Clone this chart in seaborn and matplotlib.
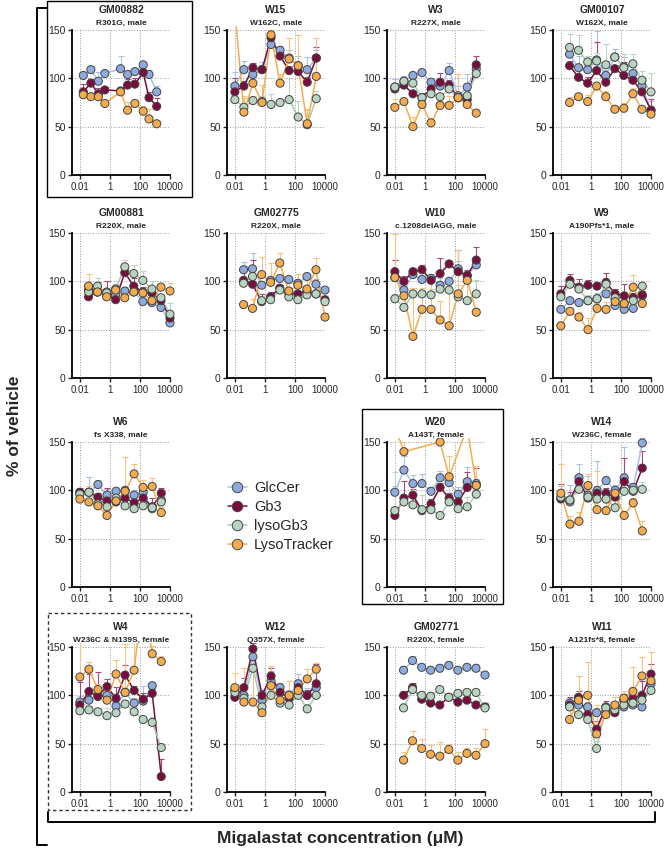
import numpy as np
import pandas as pd
import matplotlib
matplotlib.use("Agg")
import matplotlib.pyplot as plt
import seaborn as sns
from matplotlib.lines import Line2D
from matplotlib.patches import Rectangle
from matplotlib.ticker import FixedLocator, FixedFormatter, NullFormatter, LogLocator
from matplotlib.transforms import Bbox, TransformedBbox

nan = np.nan

PANELS = ["GM00882", "W15", "W3", "GM00107", "GM00881", "GM02775", "W10", "W9",
          "W6", "W20", "W14", "W4", "W12", "GM02771", "W11"]
SUBTITLES = ["R301G, male", "W162C, male", "R227X, male", "W162X, male",
             "R220X, male", "R220X, male", "c.1208delAGG, male", "A190Pfs*1, male",
             "fs X338, male", "A143T, female", "W236C, female", "W236C & N139S, female",
             "Q357X, female", "R220X, female", "A121fs*8, female"]

# concentration series (uM)
CONC_A = [0.01, 0.04, 0.16, 0.64, 2.56, 10.24, 41, 164, 655, 2621]
CONC_B = [0.038, 0.15, 0.61, 2.4, 9.8, 39, 156, 625, 2500, 10000]
CONC_C = [0.017, 0.054, 0.17, 0.46, 5.1, 15, 46, 165, 400, 1300]
PANEL_CONC = ["C", "A", "A", "B", "B", "B", "A", "A", "A", "A", "A", "A", "A", "B", "B"]

SERIES = ["GlcCer", "Gb3", "lysoGb3", "LysoTracker"]

GLCCER = [
    [103, 109, 97, 105, 110, 104, 107, 114, 104, 86],
    [92, 109, 104, 109, 135, 129, 121, 113, 109, 121],
    [91, 97, 103, 106, 96, 92, 108, 82, 91, 110],
    [125, 111, 109, 119, 103, 122, 112, 105, 92, 67],
    [91, 89, 89, 86, 90, 89, 79, 78, 73, 57],
    [112, 113, 96, 101, 103, 102, 98, 105, 97, 91],
    [104, 91, 107, 102, 103, 96, 100, 113, 106, 117],
    [71, 80, 78, 80, 82, 87, 75, 71, 72, 85],
    [97, 98, 106, 95, 99, 100, 95, 98, 81, 90],
    [98, 121, 107, 107, 99, 113, 108, 96, 109, 107],
    [92, 88, 113, 95, 100, 110, 100, 113, 103, 149],
    [93, 95, 99, 100, 89, 103, 92, 94, 110, nan],
    [105, 100, 140, 95, 115, 108, 100, 112, 100, 108],
    [126, 136, 129, 126, 128, 131, 126, 129, 128, 121],
    [92, 90, 88, 82, 83, 85, 88, 90, 88, 112],
]
GB3 = [
    [86, 95, 84, 88, 87, 93, 94, 106, 80, 71],
    [86, 92, 111, 109, 142, 123, 108, 107, 96, 121],
    [89, 93, 84, 80, 89, 96, 93, 80, 78, 114],
    [113, 101, 95, 108, 96, 110, 103, 98, 86, 67],
    [84, 89, 87, 81, 109, 95, 89, 88, 80, 62],
    [101, 97, 79, 84, 93, 88, 87, 90, 87, 81],
    [110, 100, 110, 112, 101, 108, 118, 110, 106, 122],
    [87, 101, 94, 96, 95, 99, 87, 85, 83, 86],
    [98, 98, 93, 89, 88, 92, 87, 92, 83, 97],
    [74, 92, 95, 79, 86, 103, 92, 88, 103, 105],
    [91, 90, 109, 92, 97, 97, 93, 109, 99, 123],
    [90, 104, 99, 109, 97, 121, 105, 96, 102, 16],
    [98, 108, 148, 100, 120, 103, 97, 108, 100, 112],
    [100, 108, 96, 92, 90, 98, 93, 95, 90, 88],
    [90, 98, 80, 65, 88, 82, 95, 97, 100, 122],
]
LYSOGB3 = [
    [nan, nan, nan, nan, nan, nan, nan, nan, nan, nan],
    [78, 70, 77, 76, 73, 75, 78, 60, 52, 79],
    [91, 97, 95, 80, 84, 81, 89, 80, 82, 105],
    [132, 129, 117, 118, 114, 122, 111, 115, 98, 86],
    [89, 95, 88, 92, 115, 108, 101, 92, 83, 66],
    [98, 105, 80, 81, 91, 84, 81, 86, 87, 79],
    [82, 73, 87, 87, 86, 92, 91, 84, 80, 87],
    [84, 97, 92, 80, 82, 97, 83, 77, 80, 95],
    [96, 98, 86, 83, 92, 84, 81, 84, 82, 88],
    [79, 88, 85, 80, 80, 74, 88, 81, 83, 96],
    [93, 90, 101, 93, 91, 91, 82, 99, 100, 101],
    [84, 85, 83, 79, 82, 91, 83, 75, 72, 46],
    [103, 97, 128, 88, 100, 92, 90, 100, 86, 100],
    [87, 106, 100, 99, 106, 98, 102, 103, 103, 87],
    [88, 80, 75, 45, 87, 85, 90, 92, 95, 105],
]
LYSOTRACKER = [
    [83, 81, 81, 74, 86, 67, 74, 66, 58, 53],
    [170, 65, 95, 75, 145, 95, 120, 113, 53, 102],
    [70, 76, 50, 73, 54, 72, 72, 80, 73, 64],
    [75, 81, 76, 92, 81, 68, 69, 84, 68, 63],
    [95, 89, 84, 91, 83, 89, 88, 80, 94, 90],
    [76, 72, 107, 99, 119, 90, 96, 92, 112, 63],
    [104, 85, 43, 71, 71, 60, 54, 87, 101, 68],
    [54, 69, 63, 50, 72, 71, 79, 77, 94, 77],
    [91, 88, 84, 74, 89, 99, 117, 103, 104, 77],
    [166, 140, nan, nan, nan, 150, 114, nan, 165, 105],
    [97, 65, 68, 105, 80, 79, 97, 74, 87, 58],
    [119, 127, 106, 95, 122, 103, 126, 205, 143, 135],
    [108, 93, 93, 82, 110, 95, 100, 105, 117, 127],
    [33, 53, 45, 39, 37, 44, 33, 40, 38, 50],
    [75, 95, 100, 60, 80, 90, 97, 104, 120, 115],
]

# upper SD bars
GLCCER_SD = [
    [3, 4, 10, 3, 13, 4, 3, 3, 5, 6],
    [15, 9, 5, 8, 5, 4, 8, 10, 13, 8],
    [8, 5, 3, 3, 3, 5, 8, 10, 14, 3],
    [8, 12, 8, 30, 6, 8, 10, 7, 8, 10],
    [4, 3, 4, 5, 4, 4, 5, 3, 5, 4],
    [8, 16, 4, 3, 4, 4, 3, 3, 5, 3],
    [5, 5, 4, 4, 5, 7, 5, 8, 6, 5],
    [4, 3, 4, 5, 6, 4, 5, 5, 5, 4],
    [4, 16, 5, 6, 4, 3, 5, 13, 4, 6],
    [7, 15, 9, 10, 4, 7, 5, 7, 15, 5],
    [12, 18, 14, 20, 30, 5, 6, 32, 4, 5],
    [6, 4, 5, 8, 6, 5, 5, 16, 4, nan],
    [5, 8, 8, 5, 10, 5, 6, 10, 8, 6],
    [4, 5, 3, 3, 4, 3, 3, 3, 4, 3],
    [5, 5, 5, 5, 5, 5, 5, 5, 5, 5],
]
GB3_SD = [
    [8, 4, 6, 3, 4, 6, 6, 4, 6, 9],
    [14, 5, 5, 4, 6, 4, 5, 5, 5, 11],
    [4, 3, 3, 5, 6, 10, 5, 4, 12, 9],
    [5, 8, 6, 30, 6, 4, 14, 5, 6, 12],
    [6, 10, 13, 5, 5, 8, 5, 3, 4, 4],
    [15, 25, 8, 5, 3, 4, 3, 3, 3, 3],
    [12, 6, 4, 5, 3, 16, 3, 22, 6, 14],
    [8, 7, 8, 5, 4, 10, 5, 12, 5, 4],
    [4, 3, 4, 13, 4, 4, 4, 4, 9, 5],
    [4, 18, 6, 4, 5, 5, 5, 5, 16, 18],
    [16, 8, 4, 5, 5, 5, 6, 24, 4, 18],
    [24, 18, 25, 8, 12, 10, 5, 6, 5, 18],
    [5, 10, 6, 6, 8, 6, 6, 8, 6, 20],
    [4, 5, 4, 3, 4, 3, 3, 4, 4, 4],
    [8, 6, 10, 8, 6, 5, 6, 8, 15, 10],
]
LYSOGB3_SD = [
    [nan, nan, nan, nan, nan, nan, nan, nan, nan, nan],
    [7, 10, 5, 6, 11, 4, 22, 17, 15, 8],
    [4, 3, 4, 4, 4, 4, 8, 6, 12, 5],
    [14, 16, 6, 8, 22, 3, 14, 10, 10, 20],
    [4, 8, 3, 5, 7, 9, 10, 8, 4, 12],
    [6, 10, 5, 5, 3, 4, 6, 4, 5, 3],
    [5, 5, 6, 6, 6, 5, 8, 12, 20, 14],
    [3, 5, 3, 6, 4, 4, 8, 4, 4, 3],
    [3, 3, 4, 4, 5, 3, 3, 3, 3, 4],
    [40, 6, 20, 15, 5, 4, 20, 10, 10, 6],
    [8, 6, 4, 5, 4, 5, 10, 8, 6, 8],
    [4, 4, 3, 8, 6, 4, 5, 4, 6, 4],
    [5, 5, 8, 5, 6, 5, 5, 6, 5, 6],
    [5, 5, 4, 4, 4, 4, 4, 4, 4, 4],
    [5, 8, 10, 8, 5, 5, 5, 5, 5, 8],
]
LYSOTRACKER_SD = [
    [3, 3, 4, 3, 4, 9, 4, 5, 10, 3],
    [3, 17, 12, 18, 5, 10, 22, 32, 15, 40],
    [9, 3, 10, 3, 3, 5, 10, 24, 7, 3],
    [6, 4, 7, 4, 6, 3, 5, 6, 3, 3],
    [13, 5, 3, 5, 3, 4, 5, 3, 3, 8],
    [3, 10, 18, 20, 10, 8, 12, 15, 12, 4],
    [45, 10, 50, 22, 28, 20, 45, 45, 10, 4],
    [4, 3, 5, 12, 6, 8, 4, 5, 13, 4],
    [10, 16, 6, 4, 5, 36, 10, 8, 9, 6],
    [5, 10, nan, nan, nan, 5, 22, nan, 10, 20],
    [30, 8, 10, 12, 40, 8, 5, 5, 5, 10],
    [60, 8, 6, 6, 15, 50, 30, 10, 8, 6],
    [15, 35, 40, 20, 20, 8, 15, 8, 10, 6],
    [8, 10, 10, 10, 15, 6, 8, 6, 8, 15],
    [10, 25, 35, 30, 10, 8, 8, 25, 20, 30],
]

FACE = {"GlcCer": "#8FAADC", "Gb3": "#7A0C3E", "lysoGb3": "#B9D5C2", "LysoTracker": "#F5AC4E"}
LINE = {"GlcCer": "#A9C1E8", "Gb3": "#7A0C3E", "lysoGb3": "#A8CBB4", "LysoTracker": "#F5AC4E"}
ERRC = {"GlcCer": "#A9C1E8", "Gb3": "#A8487A", "lysoGb3": "#B9D5C2", "LysoTracker": "#F8C27F"}
EDGE = "#454545"

# build long table
concs = {"A": CONC_A, "B": CONC_B, "C": CONC_C}
values = {"GlcCer": GLCCER, "Gb3": GB3, "lysoGb3": LYSOGB3, "LysoTracker": LYSOTRACKER}
sds = {"GlcCer": GLCCER_SD, "Gb3": GB3_SD, "lysoGb3": LYSOGB3_SD, "LysoTracker": LYSOTRACKER_SD}
rows = []
for p, name in enumerate(PANELS):
    xs = concs[PANEL_CONC[p]]
    for s in SERIES:
        for i, x in enumerate(xs):
            rows.append((name, s, x, values[s][p][i], sds[s][p][i]))
df = pd.DataFrame(rows, columns=["panel", "series", "conc", "value", "sd"]).dropna(subset=["value"])

sns.set_theme(style="ticks")
plt.rcParams["font.family"] = ["Liberation Sans", "DejaVu Sans"]

W, H = 666, 852
fig = plt.figure(figsize=(W / 100, H / 100), dpi=100)

# overlay in pixel coordinates for brackets, boxes and big labels
over = fig.add_axes([0, 0, 1, 1])
over.set_xlim(0, W)
over.set_ylim(H, 0)
over.axis("off")
over.patch.set_alpha(0)
over.plot([47, 37, 37, 47], [8, 8, 845, 845], color="black", lw=1.4)
over.plot([48, 48, 655, 655], [812, 822, 822, 812], color="black", lw=1.4)
over.text(15, 426, "% of vehicle", rotation=90, ha="center", va="center",
          fontsize=12.5, fontweight="bold")
over.text(340, 838, "Migalastat concentration (\u03bcM)", ha="center", va="center",
          fontsize=12.5, fontweight="bold")
over.add_patch(Rectangle((47, 1), 145, 196, fill=False, ec="black", lw=1.0))
over.add_patch(Rectangle((362, 409), 141, 195, fill=False, ec="black", lw=1.0))
over.add_patch(Rectangle((48, 613), 143, 197, fill=False, ec="#333333", lw=1.0, ls=(0, (2.5, 2))))

COL_LEFT = [72, 227, 387, 553]
ROW_TOP = [30, 233, 442, 647]
AX_W, AX_H = 98, 145
SLOTS = [(0, 0), (0, 1), (0, 2), (0, 3), (1, 0), (1, 1), (1, 2), (1, 3),
         (2, 0), (2, 2), (2, 3), (3, 0), (3, 1), (3, 2), (3, 3)]

for p, name in enumerate(PANELS):
    r, c = SLOTS[p]
    left, top = COL_LEFT[c], ROW_TOP[r]
    ax = fig.add_axes([left / W, 1 - (top + AX_H) / H, AX_W / W, AX_H / H])
    ax.set_xscale("log")
    sub = df[df["panel"] == name]

    for s in SERIES:
        d = sub[sub["series"] == s].dropna(subset=["sd"])
        if len(d):
            ax.errorbar(d["conc"], d["value"], yerr=[np.zeros(len(d)), d["sd"]],
                        fmt="none", ecolor=ERRC[s], elinewidth=0.8, capsize=2,
                        capthick=0.8, zorder=1.5)

    sns.lineplot(data=sub, x="conc", y="value", hue="series", hue_order=SERIES,
                 palette=LINE, lw=1.1, legend=False, ax=ax, zorder=2)
    sns.scatterplot(data=sub, x="conc", y="value", hue="series", hue_order=SERIES,
                    palette=FACE, s=34, edgecolor=EDGE, linewidth=0.7,
                    legend=False, ax=ax, zorder=3)

    clip = TransformedBbox(Bbox([[-0.07, -0.05], [1.07, 1.025]]), ax.transAxes)
    for art in list(ax.lines) + list(ax.collections):
        art.set_clip_path(None)
        art.set_clip_box(clip)
        art.set_clip_on(True)

    ax.set_xlim(0.003, 10000)
    ax.set_ylim(0, 150)
    ax.xaxis.set_major_locator(FixedLocator([0.01, 1, 100, 10000]))
    ax.xaxis.set_major_formatter(FixedFormatter(["0.01", "1", "100", "10000"]))
    ax.xaxis.set_minor_locator(LogLocator(base=10, subs=np.arange(2, 10)))
    ax.xaxis.set_minor_formatter(NullFormatter())
    ax.set_yticks([0, 50, 100, 150])
    ax.set_xlabel("")
    ax.set_ylabel("")
    ax.grid(True, which="major", ls=":", color="#9a9a9a", lw=0.7)
    ax.set_axisbelow(True)
    sns.despine(ax=ax)
    for sp in ["left", "bottom"]:
        ax.spines[sp].set_linewidth(1.3)
        ax.spines[sp].set_color("black")
    ax.tick_params(axis="y", which="major", length=3, width=1, pad=1.5, labelsize=7.5)
    ax.tick_params(axis="x", which="major", length=3, width=1, pad=2, labelsize=7)
    ax.tick_params(axis="x", which="minor", length=2, width=0.6)

    cx = (left + AX_W / 2) / W
    fig.text(cx, 1 - (top - 20) / H, name, ha="center", va="center",
             fontsize=7.5, fontweight="bold")
    fig.text(cx, 1 - (top - 7) / H, SUBTITLES[p], ha="center", va="center",
             fontsize=6, fontweight="bold")

handles = [Line2D([], [], color=LINE[s], lw=1.1, marker="o", markersize=7.5,
                  markerfacecolor=FACE[s], markeredgecolor=EDGE, markeredgewidth=0.7)
           for s in SERIES]
fig.legend(handles, SERIES, loc="upper left", bbox_to_anchor=(222 / W, 1 - 475 / H),
           frameon=False, fontsize=10.5, handlelength=1.3, handletextpad=0.5,
           labelspacing=0.35, borderaxespad=0)

fig.savefig("out.png", dpi=100)
